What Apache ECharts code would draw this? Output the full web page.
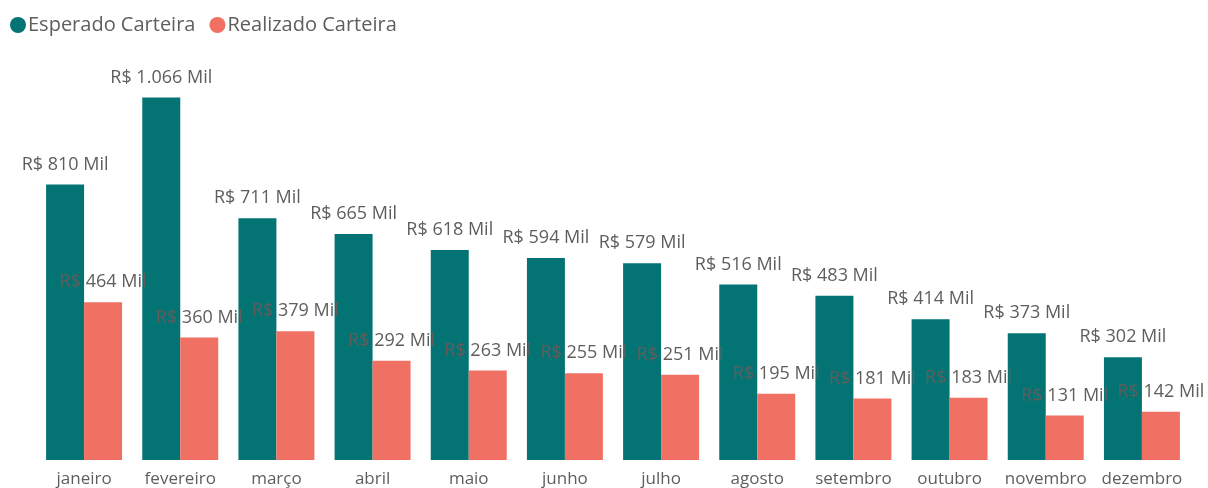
<!DOCTYPE html>
<html>
<head>
<meta charset="utf-8">
<script src="https://cdn.jsdelivr.net/npm/echarts@6/dist/echarts.min.js"></script>
<style>
html, body { margin: 0; padding: 0; background: #fff; }
#chart { width: 1208px; height: 488px; }
</style>
</head>
<body>
<div id="chart"></div>
<script>
// meses
var months = ["janeiro", "fevereiro", "março", "abril", "maio", "junho", "julho", "agosto", "setembro", "outubro", "novembro", "dezembro"];
// valores em mil R$
var esperado = [810, 1066, 711, 665, 618, 594, 579, 516, 483, 414, 373, 302];
var realizado = [464, 360, 379, 292, 263, 255, 251, 195, 181, 183, 131, 142];

var textColor = "#605E5C";
var font = "'Open Sans', 'Noto Sans', sans-serif";

function fmt (v) {
    var s = String(v);
    if (v >= 1000) {
        s = Math.floor(v / 1000) + "." + String(v % 1000).padStart(3, "0");
    }
    return "R$ " + s + " Mil";
}

var labelCfg = {
    show: true,
    position: "top",
    distance: 11,
    color: textColor,
    fontFamily: font,
    fontSize: 18,
    formatter: function (p) { return fmt(p.value); }
};

var myChart = echarts.init(document.getElementById("chart"));
var option = {
    animation: false,
    legend: {
        left: 5,
        top: 10,
        icon: "circle",
        itemWidth: 16,
        itemHeight: 16,
        itemGap: 14,
        textStyle: { color: textColor, fontFamily: font, fontSize: 20, padding: [0, 0, 0, -3] },
        data: ["Esperado Carteira", "Realizado Carteira"]
    },
    grid: {
        left: 36,
        right: 18,
        top: 52,
        bottom: 27,
        containLabel: false
    },
    xAxis: {
        type: "category",
        data: months,
        axisLine: { show: false },
        axisTick: { show: false },
        axisLabel: {
            color: textColor,
            fontFamily: font,
            fontSize: 17,
            margin: 11,
            interval: 0
        }
    },
    yAxis: {
        type: "value",
        min: 0,
        max: 1200,
        show: false,
        splitLine: { show: false }
    },
    series: [{
        name: "Esperado Carteira",
        type: "bar",
        data: esperado,
        barGap: "0%",
        barCategoryGap: "21%",
        itemStyle: { color: "#047374" },
        label: labelCfg
    }, {
        name: "Realizado Carteira",
        type: "bar",
        data: realizado,
        itemStyle: { color: "#F07163" },
        label: labelCfg
    }]
};
myChart.setOption(option);
</script>
</body>
</html>
